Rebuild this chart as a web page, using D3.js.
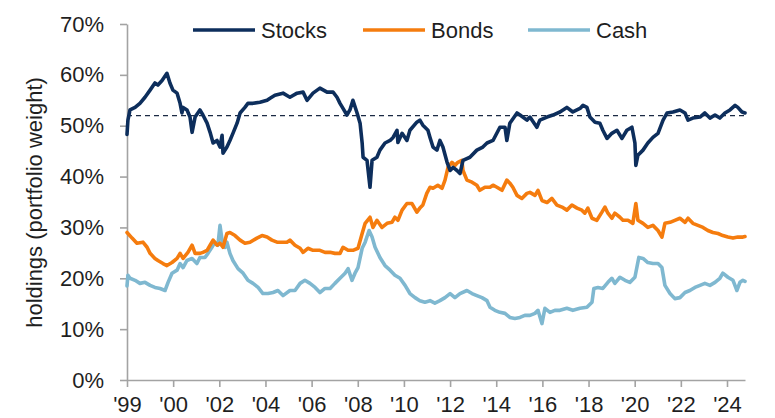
<!DOCTYPE html>
<html>
<head>
<meta charset="utf-8">
<script src="https://cdn.jsdelivr.net/npm/d3@7"></script>
<style>
  body { margin: 0; background: #fff; }
  svg text { font-family: "Liberation Sans", Arial, sans-serif; fill: #1f1f1f; }
</style>
</head>
<body>
<div id="chart"></div>
<script>
// series: [year, % of portfolio]
const stocks = [
  [1998.00, 48.3], [1998.04, 51.1], [1998.13, 53.1], [1998.35, 53.6], [1998.56, 54.4], [1998.78, 55.6],
  [1999.00, 57.0], [1999.21, 58.4], [1999.34, 58.0], [1999.52, 58.9], [1999.73, 60.3], [1999.86, 58.4],
  [1999.99, 57.0], [2000.17, 56.4], [2000.30, 54.4], [2000.38, 52.5], [2000.43, 53.6], [2000.60, 53.1],
  [2000.73, 51.7], [2000.82, 48.7], [2000.95, 51.7], [2001.16, 53.1], [2001.29, 52.1], [2001.47, 50.5],
  [2001.60, 48.7], [2001.73, 46.6], [2001.90, 47.1], [2002.03, 45.8], [2002.12, 48.1], [2002.16, 44.6],
  [2002.33, 45.8], [2002.46, 47.1], [2002.59, 48.5], [2002.77, 50.5], [2002.90, 52.5], [2003.11, 53.6],
  [2003.24, 54.4], [2003.46, 54.4], [2003.76, 54.6], [2004.07, 55.0], [2004.20, 55.4], [2004.41, 56.0],
  [2004.76, 56.4], [2005.06, 55.6], [2005.37, 56.4], [2005.63, 56.6], [2005.80, 55.0], [2006.06, 56.4],
  [2006.36, 57.4], [2006.67, 56.6], [2006.93, 56.6], [2007.10, 55.6], [2007.23, 54.4], [2007.36, 53.4],
  [2007.53, 52.1], [2007.66, 53.1], [2007.79, 55.0], [2007.97, 52.5], [2008.10, 50.5], [2008.19, 46.6],
  [2008.23, 43.8], [2008.40, 43.2], [2008.53, 37.9], [2008.62, 43.2], [2008.83, 43.8], [2008.96, 45.2],
  [2009.18, 46.6], [2009.40, 47.1], [2009.53, 47.7], [2009.70, 49.1], [2009.74, 46.7], [2009.92, 48.5],
  [2010.13, 47.1], [2010.26, 49.1], [2010.56, 50.7], [2010.69, 51.1], [2010.82, 50.1], [2010.91, 49.7],
  [2011.04, 49.1], [2011.13, 47.7], [2011.26, 45.8], [2011.43, 45.2], [2011.56, 47.1], [2011.69, 45.8],
  [2011.87, 42.8], [2012.00, 41.2], [2012.13, 41.8], [2012.30, 41.2], [2012.43, 40.6], [2012.56, 43.2],
  [2012.86, 43.8], [2013.16, 45.2], [2013.42, 45.8], [2013.60, 46.6], [2013.86, 47.1], [2014.16, 49.7],
  [2014.38, 49.7], [2014.46, 47.1], [2014.59, 50.5], [2014.90, 52.5], [2015.03, 52.1], [2015.33, 51.1],
  [2015.46, 51.7], [2015.76, 49.7], [2015.89, 51.1], [2016.20, 51.7], [2016.46, 52.1], [2016.76, 52.7],
  [2017.06, 53.6], [2017.32, 52.7], [2017.63, 53.4], [2017.76, 54.0], [2017.93, 53.6], [2018.06, 51.7],
  [2018.28, 50.7], [2018.49, 50.5], [2018.62, 49.1], [2018.80, 47.5], [2019.01, 48.5], [2019.23, 49.1],
  [2019.45, 47.5], [2019.66, 49.1], [2019.88, 49.7], [2020.01, 46.6], [2020.05, 42.2], [2020.14, 44.2],
  [2020.36, 45.2], [2020.57, 46.6], [2020.79, 47.7], [2021.01, 48.5], [2021.23, 51.1], [2021.40, 52.5],
  [2021.66, 52.7], [2021.96, 53.1], [2022.18, 52.5], [2022.31, 51.1], [2022.52, 51.5], [2022.83, 51.7],
  [2023.04, 52.5], [2023.26, 51.5], [2023.48, 52.1], [2023.69, 51.5], [2023.91, 52.5], [2024.13, 53.1],
  [2024.35, 54.0], [2024.47, 53.6], [2024.65, 52.7], [2024.78, 52.5]
];

const bonds = [
  [1998.00, 29.0], [1998.22, 27.9], [1998.43, 26.9], [1998.69, 27.1], [1998.87, 26.1], [1999.00, 24.9],
  [1999.21, 23.9], [1999.34, 23.5], [1999.56, 22.9], [1999.73, 22.5], [1999.95, 23.1], [2000.17, 23.9],
  [2000.30, 24.9], [2000.43, 23.9], [2000.64, 25.1], [2000.82, 26.5], [2000.95, 24.9], [2001.16, 24.9],
  [2001.29, 25.1], [2001.47, 25.5], [2001.60, 26.5], [2001.73, 27.5], [2001.90, 26.5], [2002.03, 26.9],
  [2002.16, 26.1], [2002.33, 28.8], [2002.46, 29.0], [2002.68, 28.4], [2002.90, 27.5], [2003.11, 26.9],
  [2003.33, 27.1], [2003.63, 27.9], [2003.85, 28.4], [2004.07, 28.1], [2004.28, 27.5], [2004.50, 27.1],
  [2004.63, 27.1], [2004.93, 27.1], [2005.06, 27.5], [2005.28, 26.5], [2005.50, 25.9], [2005.63, 25.1],
  [2005.84, 25.9], [2006.06, 25.5], [2006.36, 25.5], [2006.58, 25.1], [2006.80, 25.1], [2007.01, 24.9],
  [2007.23, 24.9], [2007.36, 26.1], [2007.58, 25.5], [2007.79, 25.5], [2008.01, 25.9], [2008.19, 28.8],
  [2008.32, 30.8], [2008.53, 32.0], [2008.66, 30.0], [2008.83, 31.4], [2009.05, 30.0], [2009.27, 30.8],
  [2009.48, 31.0], [2009.61, 32.0], [2009.74, 31.4], [2009.92, 33.4], [2010.13, 34.7], [2010.35, 34.7],
  [2010.56, 33.0], [2010.69, 33.8], [2010.82, 34.4], [2010.99, 36.7], [2011.13, 37.9], [2011.26, 37.7],
  [2011.47, 38.3], [2011.65, 37.7], [2011.78, 39.3], [2011.91, 41.8], [2012.08, 42.8], [2012.21, 42.2],
  [2012.34, 42.8], [2012.51, 43.2], [2012.56, 41.2], [2012.73, 39.3], [2012.95, 38.9], [2013.16, 38.3],
  [2013.29, 37.3], [2013.51, 37.9], [2013.73, 37.9], [2013.86, 38.3], [2014.03, 37.9], [2014.25, 37.3],
  [2014.46, 39.3], [2014.59, 38.7], [2014.72, 37.9], [2014.90, 36.3], [2015.11, 35.7], [2015.33, 36.7],
  [2015.46, 36.9], [2015.68, 36.3], [2015.81, 37.3], [2015.98, 35.3], [2016.20, 34.9], [2016.41, 35.7],
  [2016.63, 34.4], [2016.85, 34.0], [2017.06, 33.4], [2017.28, 34.4], [2017.50, 33.8], [2017.71, 33.4],
  [2017.84, 32.8], [2017.97, 33.8], [2018.15, 31.8], [2018.36, 31.4], [2018.58, 33.0], [2018.71, 34.0],
  [2018.84, 32.8], [2019.01, 31.8], [2019.14, 32.8], [2019.36, 32.0], [2019.49, 31.4], [2019.71, 31.4],
  [2019.92, 30.8], [2020.05, 34.7], [2020.14, 31.4], [2020.36, 30.8], [2020.57, 30.0], [2020.79, 30.4],
  [2021.01, 29.4], [2021.18, 28.1], [2021.31, 30.8], [2021.53, 31.0], [2021.74, 31.4], [2021.96, 31.8],
  [2022.18, 31.0], [2022.31, 31.8], [2022.52, 30.8], [2022.74, 30.4], [2022.96, 30.0], [2023.17, 29.4],
  [2023.39, 29.0], [2023.61, 28.8], [2023.82, 28.4], [2024.04, 28.1], [2024.26, 27.9], [2024.47, 28.1],
  [2024.69, 28.1], [2024.78, 28.2]
];

const cash = [
  [1998.00, 18.5], [1998.04, 20.6], [1998.13, 20.0], [1998.35, 19.6], [1998.56, 19.0], [1998.78, 19.2],
  [1999.00, 18.6], [1999.21, 18.2], [1999.43, 18.0], [1999.65, 17.6], [1999.78, 19.2], [1999.95, 21.0],
  [2000.17, 21.6], [2000.30, 22.9], [2000.43, 22.1], [2000.60, 23.5], [2000.82, 23.9], [2001.03, 22.9],
  [2001.16, 24.1], [2001.38, 24.1], [2001.51, 24.9], [2001.68, 26.1], [2001.81, 27.1], [2001.94, 26.5],
  [2002.03, 30.4], [2002.12, 27.5], [2002.25, 26.1], [2002.33, 27.1], [2002.46, 24.9], [2002.59, 23.5],
  [2002.81, 21.9], [2003.03, 21.0], [2003.24, 19.6], [2003.46, 19.0], [2003.68, 18.2], [2003.89, 17.0],
  [2004.11, 17.0], [2004.33, 17.2], [2004.54, 17.6], [2004.76, 16.6], [2005.06, 17.6], [2005.28, 17.6],
  [2005.50, 19.0], [2005.71, 19.6], [2005.93, 19.0], [2006.15, 18.2], [2006.36, 17.2], [2006.58, 18.0],
  [2006.80, 18.0], [2007.01, 19.0], [2007.23, 20.0], [2007.45, 21.0], [2007.58, 21.9], [2007.75, 19.6],
  [2007.88, 21.0], [2008.01, 22.1], [2008.19, 25.9], [2008.32, 27.1], [2008.49, 29.4], [2008.62, 28.1],
  [2008.75, 26.1], [2008.96, 24.1], [2009.18, 22.5], [2009.40, 21.6], [2009.61, 20.6], [2009.83, 20.0],
  [2010.05, 18.6], [2010.26, 17.0], [2010.48, 16.2], [2010.69, 15.6], [2010.91, 15.3], [2011.13, 15.6],
  [2011.34, 15.1], [2011.56, 15.6], [2011.78, 16.2], [2012.00, 17.0], [2012.21, 16.2], [2012.43, 17.0],
  [2012.73, 17.6], [2012.95, 17.0], [2013.16, 16.6], [2013.38, 16.2], [2013.60, 15.6], [2013.73, 14.3],
  [2013.94, 13.7], [2014.16, 13.3], [2014.38, 13.1], [2014.59, 12.3], [2014.81, 12.1], [2015.03, 12.3],
  [2015.24, 12.7], [2015.46, 12.7], [2015.68, 13.1], [2015.81, 13.7], [2015.98, 11.1], [2016.11, 14.1],
  [2016.33, 13.3], [2016.54, 13.7], [2016.76, 13.7], [2017.06, 14.1], [2017.32, 13.7], [2017.63, 14.1],
  [2017.93, 14.3], [2018.15, 15.3], [2018.23, 18.0], [2018.41, 18.2], [2018.62, 18.0], [2018.84, 19.2],
  [2019.01, 20.0], [2019.14, 19.0], [2019.36, 20.2], [2019.58, 19.6], [2019.79, 19.2], [2020.01, 20.2],
  [2020.18, 24.1], [2020.36, 23.9], [2020.57, 23.1], [2020.79, 22.9], [2021.01, 22.9], [2021.18, 22.1],
  [2021.31, 18.6], [2021.53, 17.0], [2021.74, 16.0], [2021.96, 16.2], [2022.18, 17.2], [2022.39, 17.6],
  [2022.61, 18.2], [2022.83, 18.6], [2023.04, 19.0], [2023.26, 18.6], [2023.48, 19.2], [2023.69, 20.0],
  [2023.82, 21.0], [2024.04, 20.2], [2024.26, 19.6], [2024.43, 17.6], [2024.56, 19.2], [2024.69, 19.6],
  [2024.78, 19.4]
];

const seriesNames = ['Stocks', 'Bonds', 'Cash'];
const seriesColors = ['#0d2e5c', '#f57c0e', '#7fb8d0'];
const benchmark = 52;

const yTicks = [0, 10, 20, 30, 40, 50, 60, 70];
const xTickYears = [1998, 2000, 2002, 2004, 2006, 2008, 2010, 2012, 2014, 2016, 2018, 2020, 2022, 2024];
const xTickLabels = ["'99", "'00", "'02", "'04", "'06", "'08", "'10", "'12", "'14", "'16", "'18", "'20", "'22", "'24"];

const width = 775, height = 418;
const margin = { top: 24, right: 30, bottom: 38, left: 127 };

const svg = d3.select('#chart').append('svg')
  .attr('width', width)
  .attr('height', height);

const x = d3.scaleLinear()
  .domain([1998, 2024.78])
  .range([margin.left, width - margin.right]);

const y = d3.scaleLinear()
  .domain([0, 70])
  .range([height - margin.bottom, margin.top]);

// axes
const yAxis = svg.append('g')
  .attr('transform', `translate(${margin.left},0)`)
  .call(d3.axisLeft(y).tickValues(yTicks).tickFormat(d => d + '%').tickSize(7).tickSizeOuter(0).tickPadding(16));

const xAxis = svg.append('g')
  .attr('transform', `translate(0,${height - margin.bottom})`)
  .call(d3.axisBottom(x).tickValues(xTickYears).tickFormat((d, i) => xTickLabels[i]).tickSize(7).tickSizeOuter(0).tickPadding(9));

[yAxis, xAxis].forEach(g => {
  g.selectAll('.domain, line').attr('stroke', '#a3a3a3').attr('stroke-width', 1.6);
  g.selectAll('text').style('font-size', '22px').attr('fill', '#1f1f1f');
});

svg.append('text')
  .attr('transform', `translate(34,${(70 + 335) / 2}) rotate(-90)`)
  .attr('text-anchor', 'middle')
  .attr('dominant-baseline', 'central')
  .style('font-size', '22px')
  .text('holdings (portfolio weight)');

// dashed reference level
svg.append('line')
  .attr('x1', x(1998)).attr('x2', x(2024.78))
  .attr('y1', y(benchmark)).attr('y2', y(benchmark))
  .attr('stroke', '#1b2a44')
  .attr('stroke-width', 1.2)
  .attr('stroke-dasharray', '5,4');

const line = d3.line()
  .x(d => x(d[0]))
  .y(d => y(d[1]));

// draw cash first so stocks sit on top
[[cash, 2], [bonds, 1], [stocks, 0]].forEach(([data, i]) => {
  svg.append('path')
    .datum(data)
    .attr('fill', 'none')
    .attr('stroke', seriesColors[i])
    .attr('stroke-width', 3.6)
    .attr('stroke-linejoin', 'round')
    .attr('stroke-linecap', 'round')
    .attr('d', line);
});

// legend
const legendX = [193, 363, 528];
const legend = svg.append('g').attr('transform', 'translate(0,30)');
seriesNames.forEach((name, i) => {
  legend.append('line')
    .attr('x1', legendX[i]).attr('x2', legendX[i] + 62)
    .attr('stroke', seriesColors[i])
    .attr('stroke-width', 3.6);
  legend.append('text')
    .attr('x', legendX[i] + 68)
    .attr('dy', '0.35em')
    .style('font-size', '22px')
    .text(name);
});
</script>
</body>
</html>
